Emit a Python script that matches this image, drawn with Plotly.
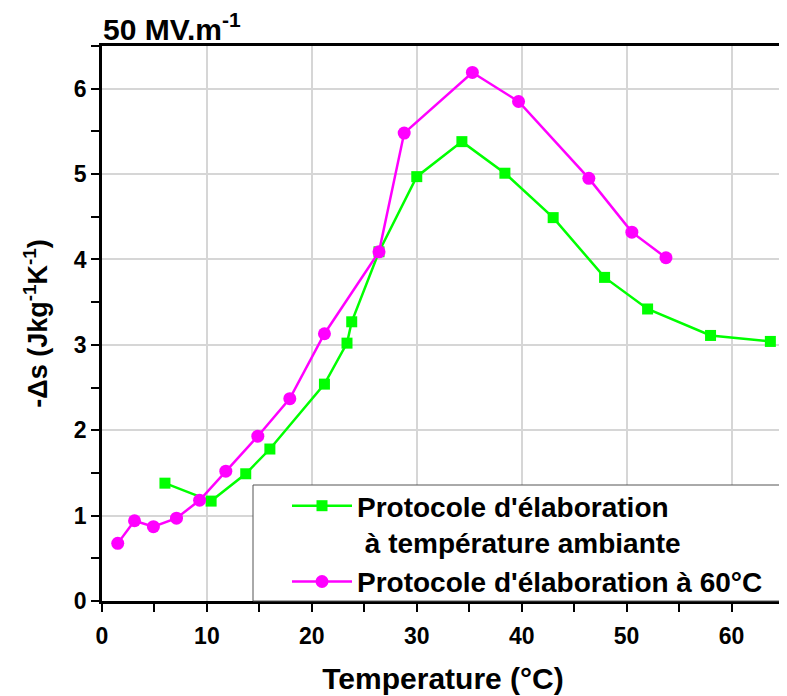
import plotly.graph_objects as go

# Data
temp_ambient = [6.0, 10.4, 13.7, 16.0, 21.2, 23.35, 23.8, 26.4, 30.0, 34.3, 38.4, 43.0, 47.9, 52.0, 58.0, 63.7]
ds_ambient = [1.38, 1.17, 1.49, 1.78, 2.54, 3.02, 3.27, 4.09, 4.97, 5.38, 5.01, 4.49, 3.79, 3.42, 3.11, 3.04]

temp_60 = [1.5, 3.1, 4.9, 7.1, 9.3, 11.8, 14.85, 17.9, 21.2, 26.4, 28.8, 35.3, 39.7, 46.4, 50.5, 53.75]
ds_60 = [0.675, 0.94, 0.87, 0.97, 1.18, 1.52, 1.93, 2.37, 3.13, 4.09, 5.48, 6.19, 5.85, 4.95, 4.32, 4.02]

name_ambient = "Protocole d'élaboration<br> à température ambiante"
name_60 = "Protocole d'élaboration à 60°C"

x_ticks = [0, 10, 20, 30, 40, 50, 60]
y_ticks = [0, 1, 2, 3, 4, 5, 6]

FONT = "Liberation Sans, Arial, sans-serif"

fig = go.Figure()
fig.add_trace(go.Scatter(
    x=temp_ambient, y=ds_ambient, name=name_ambient, mode="lines+markers",
    line=dict(color="#00FF00", width=2.5),
    marker=dict(symbol="square", size=11, color="#00FF00"),
))
fig.add_trace(go.Scatter(
    x=temp_60, y=ds_60, name=name_60, mode="lines+markers",
    line=dict(color="#FF00FF", width=2.5),
    marker=dict(symbol="circle", size=13, color="#FF00FF"),
))

axis_common = dict(
    showline=True, linecolor="black", linewidth=2.5,
    ticks="outside", ticklen=8, tickwidth=2, tickcolor="black",
    showgrid=True, gridcolor="#d6d6d6", gridwidth=1.5,
    zeroline=False, automargin=False,
    tickfont=dict(family=FONT, size=23, color="black", weight="bold"),
)

# legend frame (drawn as a box in paper coordinates)
fig.add_shape(
    type="rect", xref="paper", yref="paper",
    x0=(253 - 102) / 682, x1=1.0, y0=0.0, y1=(601 - 485) / 555,
    fillcolor="white", line=dict(color="#555555", width=1), layer="above",
)

fig.update_layout(
    width=787, height=696,
    margin=dict(l=94, r=11, t=38, b=103),
    paper_bgcolor="white", plot_bgcolor="white",
    font=dict(family=FONT, color="black"),
    title=dict(
        text="50 MV.m<sup>-1</sup>",
        font=dict(family=FONT, size=30, color="black", weight="bold"),
        x=95 / 787, xanchor="left", xref="container",
        y=1 - 21 / 696, yanchor="middle", yref="container",
    ),
    xaxis=dict(
        **axis_common, range=[0, 65], tickvals=x_ticks, mirror=True, ticklabelstandoff=5,
        minor=dict(dtick=5, tick0=0, ticks="outside", ticklen=8, tickwidth=2, tickcolor="black", showgrid=False),
        title=dict(text="Temperature (°C)", standoff=20,
                   font=dict(family=FONT, size=30, color="black", weight="bold")),
    ),
    yaxis=dict(
        **axis_common, range=[0, 6.5], tickvals=y_ticks, mirror="ticks",
        minor=dict(dtick=0.5, tick0=0, ticks="outside", ticklen=8, tickwidth=2, tickcolor="black", showgrid=False),
        title=dict(text="-Δs (Jkg<sup>-1</sup>K<sup>-1</sup>)", standoff=19,
                   font=dict(family=FONT, size=27, color="black", weight="bold")),
    ),
    legend=dict(
        x=(287 - 102) / 682, y=(601 - 481) / 555, xanchor="left", yanchor="top",
        bgcolor="rgba(0,0,0,0)", borderwidth=0,
        font=dict(family=FONT, size=28, color="black", weight="bold"),
        itemwidth=60, valign="top", tracegroupgap=0,
    ),
)

fig.write_html("out.html")
